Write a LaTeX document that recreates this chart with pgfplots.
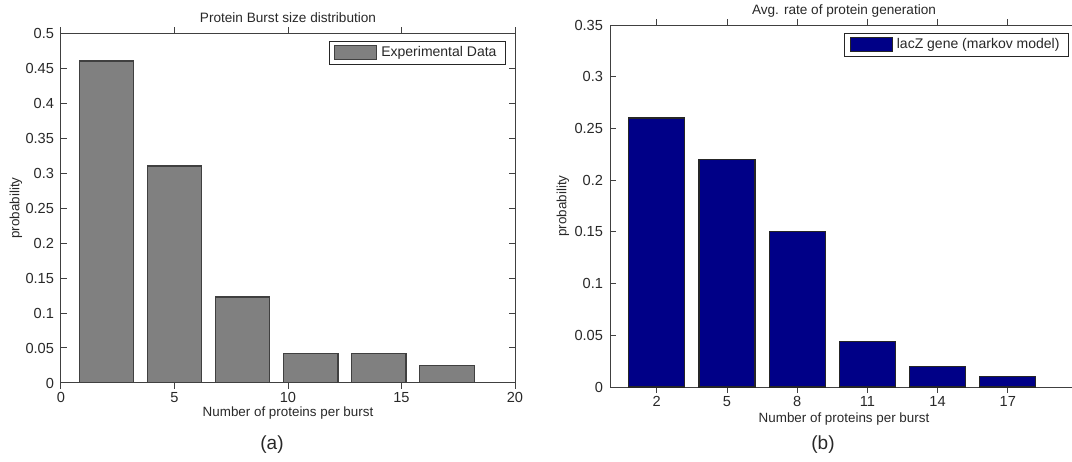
\documentclass[border=0pt]{standalone}
\usepackage{pgfplots}
\pgfplotsset{compat=1.18}
\usepackage{fontspec}
\setmainfont{Liberation Sans}
\definecolor{bargray}{RGB}{128,128,128}
\definecolor{barnavy}{RGB}{0,0,135}
\definecolor{txt}{RGB}{40,40,40}
\begin{document}
\begin{tikzpicture}
\pgfplotsset{
  mat/.style={
    scale only axis,
    anchor=south west,
    axis line style={line width=0.5pt, black!75},
    tick align=inside,
    major tick length=2.8pt,
    xtick pos=both, ytick pos=both,
    tick style={line width=0.5pt, black!75},
    ymin=0,
    xmin=0, xmax=20,
    scaled y ticks=false, scaled x ticks=false,
    /pgf/number format/.cd, fixed, precision=2, assume math mode=true, /pgfplots/.cd,
    ticklabel style={font=\fontsize{7.3}{8}\selectfont, text=txt},
    xticklabel style={yshift=1.8pt},
    label style={font=\fontsize{6.7}{7.5}\selectfont, text=txt},
    every axis title/.style={font=\fontsize{6.8}{7.5}\selectfont, text=txt, at={(0.5,1)}, anchor=base, yshift=5.4pt},
    every axis y label/.style={font=\fontsize{6.7}{7.5}\selectfont, text=txt, at={(0,0.5)}, anchor=center, rotate=90, yshift=22.5pt},
    ybar, bar width=2.4, bar shift=0pt,
    legend style={font=\fontsize{7}{8}\selectfont, text=txt, draw=black!85, line width=0.5pt,
      at={(1,1)}, anchor=north east, xshift=-4.5pt, yshift=-3.8pt,
      inner xsep=2.5pt, inner ysep=0.6pt, cells={anchor=west}},
    legend image code/.code={\draw[##1, line width=0.5pt] (0pt,-3.5pt) rectangle (21pt,3.5pt);},
  }
}
\begin{axis}[mat,
  at={(30.5pt,39pt)}, width=227pt, height=175pt,
  ymax=0.5,
  xtick={0,5,10,15,20},
  ytick={0,0.05,0.1,0.15,0.2,0.25,0.3,0.35,0.4,0.45,0.5},
  title={Protein Burst size distribution},
  xlabel={Number of proteins per burst},
  xlabel style={at={(0.5,0)}, anchor=base, yshift=-16.8pt},
  ylabel={probability},
]
\addplot[fill=bargray, draw=black!75, line width=0.6pt] coordinates {
  (2,0.46) (5,0.31) (8,0.123) (11,0.042) (14,0.042) (17,0.025)
};
\addlegendentry{Experimental Data}
\end{axis}
\begin{axis}[mat,
  at={(305pt,37pt)}, width=234pt, height=181pt,
  ymax=0.35,
  xtick={2,5,8,11,14,17},
  ytick={0,0.05,0.1,0.15,0.2,0.25,0.3,0.35},
  title={Avg. rate of protein generation},
  xlabel={Number of proteins per burst},
  xlabel style={at={(0.5,0)}, anchor=base, yshift=-17.8pt},
  ylabel={probability},
  every axis y label/.append style={yshift=1pt},
]
\addplot[fill=barnavy, draw=black!85, line width=0.6pt] coordinates {
  (2,0.26) (5,0.22) (8,0.15) (11,0.044) (14,0.02) (17,0.01)
};
\addlegendentry{lacZ gene (markov model)}
\end{axis}
\node[font=\fontsize{9.5}{10}\selectfont, text=txt] at (136pt,8pt) {(a)};
\node[font=\fontsize{9.5}{10}\selectfont, text=txt] at (411.5pt,8pt) {(b)};
\pgfresetboundingbox
\path[use as bounding box] (0,0) rectangle (536pt,230.5pt);
\end{tikzpicture}
\end{document}
